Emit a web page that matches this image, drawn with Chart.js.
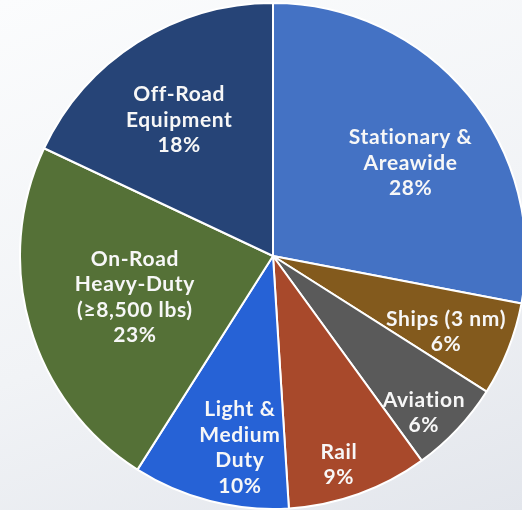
<!DOCTYPE html>
<html>
<head>
<meta charset="utf-8">
<script src="https://cdn.jsdelivr.net/npm/chart.js@4"></script>
<style>
  html, body { margin: 0; padding: 0; width: 522px; height: 510px; overflow: hidden; }
  body { background: linear-gradient(160deg, #fbfcfd 0%, #f1f3f6 55%, #e3e6ec 100%); position: relative; }
  #wrap { position: absolute; left: 19px; top: 2px; width: 508px; height: 508px; }
</style>
</head>
<body>
<div id="wrap"><canvas id="pie"></canvas></div>
<script>
const categories = [
    ['Stationary &', 'Areawide'],
    ['Ships (3 nm)'],
    ['Aviation'],
    ['Rail'],
    ['Light &', 'Medium', 'Duty'],
    ['On-Road', 'Heavy-Duty', '(\u22658,500 lbs)'],
    ['Off-Road', 'Equipment']
];
const shares = [28, 6, 6, 9, 10, 23, 18];
const colors = ['#4472c4', '#835a1d', '#5a5a5a', '#a8492b', '#2662d6', '#557137', '#264477'];
// label placement: fraction of radius, and a small turn (degrees) off the slice middle
const labelDist = [0.656, 0.747, 0.86, 0.866, 0.77, 0.57, 0.653];
const labelTurn = [5.6, 2.1, 2.9, 2.3, -4.6, -0.5, -2.2];

const sliceLabels = {
    id: 'sliceLabels',
    afterDatasetsDraw(chart) {
        const ctx = chart.ctx;
        const meta = chart.getDatasetMeta(0);
        ctx.save();
        ctx.fillStyle = '#f7f7f7';
        ctx.font = 'bold 21px Lato';
        ctx.letterSpacing = '0.6px';
        ctx.textAlign = 'center';
        ctx.textBaseline = 'middle';
        meta.data.forEach((arc, i) => {
            const p = arc.getProps(['x', 'y', 'startAngle', 'endAngle', 'outerRadius'], true);
            const mid = (p.startAngle + p.endAngle) / 2 + labelTurn[i] * Math.PI / 180;
            const r = p.outerRadius * labelDist[i];
            const cx = p.x + Math.cos(mid) * r;
            const cy = p.y + Math.sin(mid) * r;
            const lines = categories[i].concat([shares[i] + '%']);
            const lh = 25.5;
            const top = cy - (lines.length - 1) * lh / 2;
            lines.forEach((t, k) => ctx.fillText(t, cx, top + k * lh));
        });
        ctx.restore();
    }
};

new Chart(document.getElementById('pie'), {
    type: 'pie',
    data: {
        labels: categories.map(c => c.join(' ')),
        datasets: [{
            data: shares,
            backgroundColor: colors,
            borderColor: '#ffffff',
            borderWidth: 2
        }]
    },
    options: {
        responsive: true,
        maintainAspectRatio: false,
        animation: false,
        layout: { padding: 0 },
        plugins: {
            legend: { display: false },
            tooltip: { enabled: false }
        }
    },
    plugins: [sliceLabels]
});
</script>
</body>
</html>
